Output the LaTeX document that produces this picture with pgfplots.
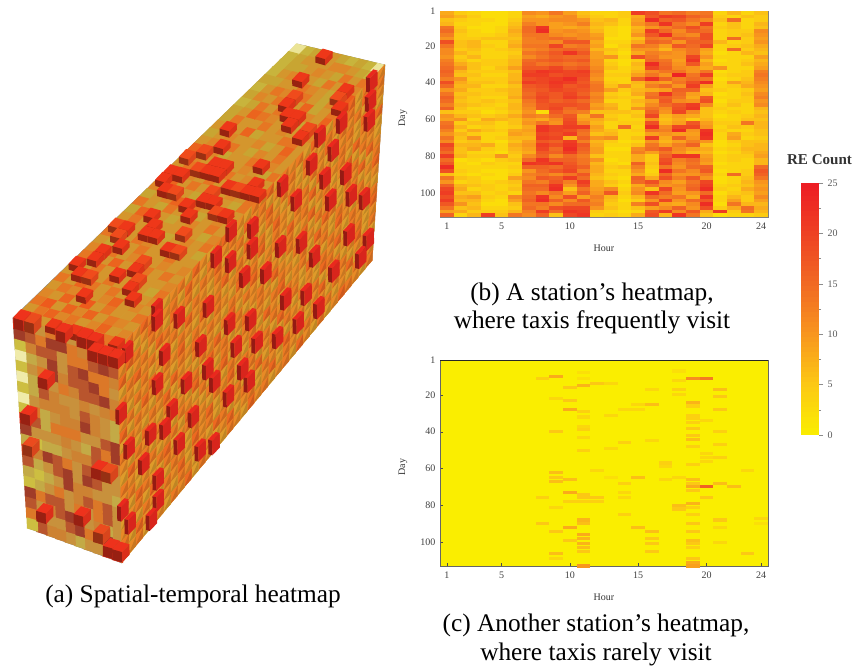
\documentclass[border=0pt]{standalone}
\usepackage{fontspec}
\setmainfont{Liberation Serif}
\usepackage{pgfplots}
\usepackage{pgfplotstable}
\pgfplotsset{compat=1.18}

% 1 px of the reference = 0.75pt
\def\qd#1#2#3#4#5#6#7#8{%
  \pgfpathmoveto{\pgfpoint{(#1)*.75pt}{(#2)*.75pt}}%
  \pgfpathlineto{\pgfpoint{(#3)*.75pt}{(#4)*.75pt}}%
  \pgfpathlineto{\pgfpoint{(#5)*.75pt}{(#6)*.75pt}}%
  \pgfpathlineto{\pgfpoint{(#7)*.75pt}{(#8)*.75pt}}%
  \pgfpathclose\pgfusepathqfill}
\def\flatcell#1#2#3#4{\qd{-.53*(#1)-.53*(#3)}{-.53*(#2)-.53*(#4)}{.53*(#1)-.53*(#3)}{.53*(#2)-.53*(#4)}{.53*(#1)+.53*(#3)}{.53*(#2)+.53*(#4)}{-.53*(#1)+.53*(#3)}{-.53*(#2)+.53*(#4)}}
% cube: near corner shift, then scale of the short side and of the height
\def\cube#1#2#3#4{%
  \ifdim\pgfplotspointmetatransformed pt>850pt
  \pgftransformshift{\pgfpoint{#1*.75pt}{#2*.75pt}}%
  \pgfsetfillcolor{mapped color}\qd{0}{0}{-9.8*#3}{2.8*#3}{-9.8*#3+7.4}{2.8*#3+7.8}{7.4}{7.8}%
  \pgfsetfillcolor{mapped color!64!black}\qd{0}{0}{-9.8*#3}{2.8*#3}{-9.8*#3+.2*#4}{2.8*#3-10.4*#4}{.2*#4}{-10.4*#4}%
  \pgfsetfillcolor{mapped color!92!black}\qd{0}{0}{7.4}{7.8}{7.4+.2*#4}{7.8-10.4*#4}{.2*#4}{-10.4*#4}%
  \fi}
\pgfdeclareplotmark{lflat}{\flatcell{10.6}{-3}{.5}{-10.6}}
\pgfdeclareplotmark{tflat}{\flatcell{9.7}{-2.6}{7.6}{7.8}}
\pgfdeclareplotmark{rflat}{\flatcell{7.2}{8.1}{-.2}{-10.3}%
  \pgfsetfillcolor{mapped color!86!black}\qd{-3.7}{-9.2}{3.5}{-1.1}{3.7}{9.2}{3.7}{9.2}}
\pgfdeclareplotmark{tcube}{\cube{1.2}{-4}{1}{.6}}
\pgfdeclareplotmark{lcube}{\cube{4.8}{3.8}{1}{1}}
\pgfdeclareplotmark{rcube}{\cube{-3.7}{3.4}{.4}{1.4}}
\pgfdeclareplotmark{hcell}{\pgfpathrectangle{\pgfpoint{-5.2pt}{-1.45pt}}{\pgfpoint{10.4pt}{2.9pt}}\pgfusepathqfill}
\pgfdeclareplotmark{ccell}{\pgfpathrectangle{\pgfpoint{-5.2pt}{-1.15pt}}{\pgfpoint{10.4pt}{2.3pt}}\pgfusepathqfill}
\pgfdeclareplotmark{barcell}{\pgfpathrectangle{\pgfpoint{-6.75pt}{-2pt}}{\pgfpoint{13.5pt}{4pt}}\pgfusepathqfill}

% bilinear placing of a cell on a face: corners, then s and t
\def\bl#1#2#3#4#5#6{((1-(#5))*(1-(#6))*#1+(#5)*(1-(#6))*#2+(1-(#5))*(#6)*#3+(#5)*(#6)*#4)}

\pgfplotsset{
  colormap={re}{rgb255=(250,238,0) rgb255=(252,200,20) rgb255=(248,150,30) rgb255=(241,105,35) rgb255=(238,65,35) rgb255=(237,28,36)},
  colormap={faceT}{rgb255=(235,228,150) rgb255=(200,180,60) rgb255=(200,165,50) rgb255=(212,150,45) rgb255=(222,135,40) rgb255=(230,118,35) rgb255=(235,100,30) rgb255=(238,90,28) rgb255=(240,75,28) rgb255=(238,55,25)},
  colormap={faceR}{rgb255=(235,228,140) rgb255=(205,185,55) rgb255=(214,170,48) rgb255=(222,155,42) rgb255=(232,138,38) rgb255=(235,122,35) rgb255=(237,105,32) rgb255=(238,85,30) rgb255=(236,60,30) rgb255=(235,40,30)},
  colormap={faceL}{rgb255=(240,235,170) rgb255=(205,190,65) rgb255=(195,170,70) rgb255=(200,145,60) rgb255=(205,130,50) rgb255=(220,120,40) rgb255=(185,85,45) rgb255=(160,60,40) rgb255=(235,75,30) rgb255=(238,50,28)},
  panel/.style={
    scale only axis, width=246pt, height=154.5pt, anchor=south west,
    y dir=reverse, xmin=0.5, xmax=24.5, ymin=1, ymax=113,
    xtick={1,5,10,15,20,24}, ytick={1,20,40,60,80,100},
    colormap name=re, point meta min=0, point meta max=25,
    /pgf/number format/assume math mode=true,
    tick label style={font=\fontsize{7.5}{9}\selectfont, text=black!75},
    label style={font=\fontsize{7.5}{9}\selectfont, text=black!80},
    axis line style={draw=black!50}, tick style={black!70},
    major tick length=2.5pt, ytick pos=left, xtick pos=bottom,
    x tick label style={yshift=-1pt},
    xlabel={Hour}, ylabel={Day},
    xlabel style={at={(axis description cs:0.5,-0.15)},anchor=center},
    ylabel style={at={(axis description cs:-0.113,0.48)},anchor=center},
  },
}

% panel (b): hour 1..24 per row, one row per two days
\pgfplotstableread[header=false]{
2 7 4 3 2 2 3 10 9 12 8 5 3 3 4 18 16 12 13 11 12 3 6 3 5
4 8 6 4 2 2 3 8 7 9 10 6 4 3 4 7 15 18 17 14 13 4 3 5 4
6 5 4 3 3 2 4 9 9 10 10 9 5 6 3 8 20 14 15 12 10 5 13 3 4
8 6 3 3 2 2 5 11 9 8 9 11 6 5 3 9 12 19 12 10 18 3 5 3 6
10 12 4 2 2 3 6 13 19 8 7 8 5 3 2 6 9 11 13 16 12 4 5 3 5
12 13 5 3 2 3 7 13 20 9 10 9 6 3 2 7 18 13 10 14 13 3 4 4 10
14 11 4 3 3 4 6 12 12 10 9 10 8 3 2 9 15 20 11 10 16 3 4 5 9
16 9 4 4 5 5 5 11 12 13 12 10 9 2 2 5 12 11 14 13 16 3 13 4 8
18 16 5 6 3 3 6 11 11 10 15 15 7 3 3 7 14 13 9 14 14 6 3 4 9
20 12 5 6 4 3 7 12 12 17 11 12 8 2 4 12 11 8 15 13 17 3 4 5 7
22 10 4 5 3 4 5 10 11 13 14 13 6 5 3 9 9 6 10 12 8 3 13 4 6
24 10 6 4 3 3 4 12 13 15 19 15 8 4 2 7 11 10 9 12 7 2 3 6 5
26 9 4 6 3 3 5 10 12 14 13 13 8 9 3 16 12 9 9 17 9 3 3 3 8
28 11 5 3 4 4 6 13 14 15 14 15 9 3 2 4 13 12 8 19 6 2 3 4 6
30 12 7 5 4 4 6 14 12 13 12 13 9 4 2 6 20 13 9 15 8 3 3 5 7
32 13 9 5 3 5 8 15 15 17 14 15 10 5 3 5 17 14 10 9 7 9 3 3 8
34 14 6 4 4 4 5 17 19 18 17 18 11 3 3 6 10 12 12 9 12 2 3 4 11
36 13 5 5 3 3 6 18 18 16 17 17 10 4 4 8 12 9 21 12 18 3 4 4 12
38 11 9 4 4 4 6 16 17 18 20 16 9 3 3 14 20 14 11 13 12 2 3 5 11
40 16 7 5 5 4 7 18 17 19 18 15 11 4 3 6 9 8 12 16 20 3 8 6 10
42 13 6 6 3 3 5 15 16 18 15 16 12 5 9 5 11 13 9 18 8 3 4 7 9
44 9 7 4 4 5 6 14 15 17 16 15 12 8 4 6 7 8 14 14 5 4 3 4 8
46 12 5 5 4 4 6 13 16 15 17 14 10 4 3 7 12 19 13 8 6 2 3 5 10
48 14 6 4 3 3 7 14 17 15 18 16 11 5 4 4 13 14 12 7 15 3 3 4 11
50 13 5 4 5 4 5 12 16 14 15 13 10 3 3 6 8 15 10 9 16 2 4 4 9
52 11 6 5 4 3 6 11 15 16 16 15 8 6 3 5 10 13 15 18 10 3 5 3 10
54 14 5 3 3 4 6 10 15 17 13 15 9 7 3 9 12 10 16 19 5 4 3 3 6
56 5 4 4 2 3 5 9 2 15 12 11 5 5 5 4 14 9 17 10 5 3 4 3 5
58 9 6 5 4 5 7 11 10 13 15 7 12 4 3 5 17 6 8 7 5 2 3 4 6
60 8 9 3 7 6 5 8 7 10 16 8 7 5 3 3 9 5 7 4 6 3 3 5 5
62 12 4 5 5 3 5 9 12 9 17 10 6 3 4 4 16 6 8 15 8 4 4 12 6
64 13 6 3 4 3 4 7 19 17 18 18 8 3 13 3 20 10 17 17 9 3 5 4 6
66 11 4 7 5 4 7 8 19 17 16 13 7 5 3 4 12 11 20 9 19 4 3 3 5
68 9 6 4 3 3 8 7 17 16 18 12 5 6 3 3 8 9 8 8 20 3 7 4 5
70 12 5 9 3 4 6 6 18 17 6 14 9 10 3 5 18 7 14 9 19 3 8 3 4
72 10 4 5 3 2 5 8 15 14 18 11 6 4 2 3 9 6 8 11 9 2 4 5 5
74 17 6 6 7 3 7 9 18 16 19 15 7 3 3 5 12 8 11 14 5 2 3 5 6
76 15 5 7 4 3 6 8 17 13 20 14 8 2 2 10 13 15 10 8 7 3 4 6 6
78 13 5 3 3 2 5 7 15 14 18 13 8 3 3 11 8 12 9 6 6 2 3 5 7
80 18 6 4 4 9 4 10 14 10 13 11 5 3 3 7 4 14 19 19 8 3 4 4 8
82 13 2 3 2 4 5 13 19 14 14 12 9 2 3 7 4 16 11 13 9 3 4 3 6
84 15 3 2 4 3 3 19 18 19 15 12 6 3 2 14 5 17 10 12 8 2 3 3 6
86 20 3 3 3 3 4 14 14 13 16 14 7 4 5 11 4 12 9 13 14 3 3 3 13
88 16 4 3 2 2 3 9 13 15 17 11 7 3 3 9 3 20 12 10 15 2 3 4 15
90 5 3 2 3 2 4 11 12 10 12 15 6 4 3 7 4 13 9 9 11 3 13 4 14
92 12 5 4 2 2 8 10 15 14 18 13 5 3 2 14 7 16 11 15 9 2 3 5 12
94 9 3 4 3 4 5 12 11 15 11 18 7 5 3 13 16 10 8 12 17 2 3 6 9
96 14 6 5 4 3 4 14 14 19 9 16 7 4 2 7 12 9 10 13 18 3 4 5 8
98 17 7 3 4 3 5 13 13 20 5 12 8 10 3 9 5 17 9 14 20 4 3 7 9
100 18 5 5 3 4 3 12 10 12 8 14 9 15 4 10 19 13 8 9 13 2 4 5 8
102 16 7 8 4 3 10 13 19 10 16 8 11 6 3 6 13 11 12 7 19 3 6 4 10
104 18 6 6 3 2 8 14 20 14 10 15 10 5 2 4 9 17 9 13 15 3 8 4 8
106 15 9 5 2 2 5 12 12 10 13 13 11 4 3 11 16 8 7 10 20 2 12 6 6
108 12 5 6 3 3 4 13 11 16 17 17 9 5 3 5 8 10 14 9 16 4 7 13 7
110 8 7 4 4 4 6 11 18 13 19 18 4 3 2 3 15 18 10 15 7 18 4 12 6
112 14 3 6 18 5 12 10 14 5 17 19 3 4 3 7 16 6 19 12 5 2 3 3 4
}\tabb

% panel (c): hour day value, only the cells that leave the yellow
\pgfplotstableread[header=false]{
8 11 4
9 10 8
10 16 5
11 15 7
12 14 5
13 14 3
11 8 2
11 11 2
18 7 2
18 12 3
18 17 4
18 20 3
19 11 11
20 11 13
19 24 7
19 26 4
19 31 4
19 33 4
19 35 4
19 38 5
19 42 5
19 44 6
19 48 4
19 58 4
19 66 6
19 68 5
19 70 8
19 72 5
19 79 7
19 81 4
19 85 4
19 90 5
19 94 5
19 99 6
19 101 5
19 103 4
19 109 5
19 111 8
19 113 9
20 70 16
20 76 5
20 34 3
20 52 3
20 54 3
20 56 3
21 17 6
21 21 5
21 28 5
21 40 4
21 47 4
21 54 4
21 68 6
21 88 5
21 92 3
21 100 3
22 70 6
10 23 5
10 28 8
10 66 6
10 73 8
10 78 4
10 92 8
10 99 5
9 22 3
9 40 5
9 62 6
9 65 5
9 67 6
9 81 3
9 94 5
9 106 6
9 109 3
8 76 4
8 90 5
11 29 4
11 32 3
11 37 3
11 39 4
11 43 3
11 50 4
11 74 5
11 76 5
11 78 4
11 88 7
11 90 6
11 96 8
11 98 7
11 101 7
11 103 6
11 105 5
11 113 10
12 76 5
12 78 4
12 61 3
13 31 3
13 49 3
13 65 2
14 28 3
14 46 4
14 68 4
14 73 3
14 76 3
14 85 4
15 25 3
15 28 3
15 65 6
15 92 6
16 25 6
16 17 3
16 45 3
16 94 6
16 98 5
16 101 5
16 105 5
17 57 4
17 59 3
17 66 3
18 80 6
18 82 5
18 65 3
23 106 5
23 61 3
24 87 3
24 90 2
}\tabc

% panel (a), levels 0..9 read off the three faces
\pgfplotstableread[header=false]{
36 0 1 2 9 3 2 1 2 1 0
35 1 2 3 3 3 4 4 3 2 1
34 1 2 2 3 4 3 2 5 3 5
33 1 3 4 9 3 2 5 3 9 4
32 2 2 3 3 5 4 3 2 8 7
31 1 3 5 4 8 5 3 2 4 9
30 2 4 3 5 9 3 6 2 3 5
29 1 2 5 3 5 9 9 4 3 6
28 2 3 6 5 4 3 9 2 8 5
27 2 5 3 3 5 3 4 3 9 4
26 3 9 3 6 2 3 3 5 5 3
25 2 3 4 3 3 4 2 3 6 3
24 3 4 9 5 3 2 4 3 5 3
23 6 8 4 2 3 3 5 9 4 3
22 8 4 3 9 9 3 4 3 2 5
21 3 5 8 9 9 5 3 4 9 3
20 9 9 4 3 5 3 9 8 9 9
19 9 6 3 5 3 8 3 4 3 5
18 4 9 8 3 2 9 9 3 2 5
17 2 3 4 6 9 5 3 8 9 3
16 5 3 2 5 3 9 2 3 4 3
15 2 6 9 3 2 3 4 3 5 3
14 3 5 3 9 3 3 8 3 2 4
13 8 9 3 9 9 2 3 4 3 5
12 5 8 3 5 4 3 9 8 3 2
11 3 2 9 3 5 3 3 5 3 3
10 4 9 5 3 4 8 3 4 3 4
9 5 9 3 6 3 9 5 3 5 3
8 9 3 5 3 9 3 8 3 3 4
7 3 9 8 3 5 3 9 3 2 5
6 5 3 6 5 3 5 3 9 3 4
5 3 5 4 9 3 4 6 3 4 3
4 4 3 6 3 7 3 5 3 3 5
3 5 7 3 6 4 6 3 5 4 3
2 3 5 6 4 5 3 4 6 3 4
1 9 8 3 9 3 9 9 3 5 9
}\tabT
\pgfplotstableread[header=false]{
1 9 8 3 5 9 3 9 9 5 4
2 7 6 5 7 7 5 4 9 9 9
3 1 4 6 6 3 5 5 6 7 6
4 0 2 3 7 3 6 7 5 5 4
5 1 3 5 7 4 6 6 7 5 3
6 0 2 9 3 5 4 6 6 7 4
7 1 2 6 4 3 3 4 3 4 5
8 0 3 4 4 4 3 6 4 3 2
9 1 5 2 3 4 4 7 4 3 2
10 9 6 2 5 5 5 3 3 6 7
11 7 3 3 3 4 3 2 6 5 7
12 2 1 2 2 3 4 4 6 4 4
13 8 4 7 6 5 3 6 9 8 3
14 6 2 3 6 7 3 7 6 3 3
15 2 1 2 3 7 4 4 3 3 2
16 1 2 3 5 3 4 6 5 6 3
17 7 5 6 6 3 5 3 5 6 3
18 6 3 4 6 7 9 3 4 2 3
19 5 9 3 3 6 7 5 8 7 3
20 1 6 4 4 3 2 3 3 9 9
}\tabL
\pgfplotstableread[header=false]{
1 3 5 4 6 5 9 3 4 5 3 6 4 3 5 6 9 4 3 5 4 6 3 5 4 5 3 6 9 3 5 4 6 3 5 9 4
2 5 9 3 4 6 9 4 5 3 6 4 3 5 9 4 5 3 6 4 5 3 4 9 5 3 6 4 3 5 4 9 5 3 6 4 5
3 4 6 5 3 5 4 3 6 4 5 3 5 4 6 3 4 5 3 9 4 6 3 5 4 3 5 9 4 6 3 5 4 5 3 9 4
4 6 3 4 5 3 6 5 4 9 3 5 4 3 5 4 9 3 6 4 3 5 4 3 6 4 3 5 4 3 9 4 5 3 6 4 3
5 3 5 6 4 5 3 4 5 3 6 4 5 3 4 6 3 5 4 9 5 3 6 4 3 9 5 3 6 4 3 5 4 3 5 9 6
6 5 4 3 5 3 4 9 3 5 4 3 6 9 5 3 4 5 3 4 6 3 5 4 3 5 4 6 3 9 4 5 3 6 4 5 3
7 9 3 5 4 6 3 5 4 6 3 5 4 3 5 4 3 6 9 5 3 4 5 3 6 4 5 3 4 5 3 4 6 3 5 4 3
8 4 5 3 6 4 9 4 3 5 4 6 3 5 4 3 5 4 3 6 4 5 3 9 5 3 4 6 3 5 4 3 9 5 3 6 4
9 6 3 5 4 3 5 3 6 4 3 5 9 4 3 5 6 3 5 4 3 9 4 3 5 4 6 3 5 4 9 3 5 4 6 3 5
10 3 5 4 3 5 4 6 3 5 4 3 5 4 6 3 9 5 3 4 5 3 6 4 3 5 9 4 3 6 5 3 4 5 3 4 6
11 5 9 3 6 4 3 5 4 3 9 5 3 6 4 5 3 4 6 3 5 4 3 5 4 3 5 3 6 4 3 5 4 9 5 3 4
12 4 3 5 4 9 5 3 9 4 3 6 4 9 3 5 4 3 5 9 4 3 5 6 3 4 5 3 4 5 3 6 4 3 5 4 3
13 3 6 4 5 3 4 9 3 5 4 3 5 3 4 6 3 9 4 5 3 6 4 3 5 4 3 6 9 3 5 4 3 5 4 9 5
14 5 4 3 9 5 3 4 5 3 6 4 3 5 9 3 5 4 3 6 4 3 5 4 9 5 3 4 3 5 4 6 3 5 4 3 6
15 4 5 3 4 3 5 6 3 4 5 9 4 3 5 4 6 3 5 4 9 5 3 6 4 3 5 4 3 6 5 3 4 9 5 3 4
16 9 3 6 5 4 3 5 4 9 3 5 4 6 3 5 4 3 9 5 3 4 6 3 5 4 3 9 5 3 4 5 3 4 6 3 5
17 3 4 5 3 6 9 3 5 4 3 6 4 5 3 4 9 5 3 4 6 3 5 9 3 4 5 3 4 6 3 9 5 3 4 5 3
18 4 9 3 5 4 3 5 4 6 3 5 4 3 6 5 3 4 5 9 3 5 4 3 6 4 9 3 5 4 3 5 4 6 3 4 9
19 5 3 6 4 3 9 4 3 5 4 3 9 5 3 4 6 3 4 5 3 4 6 3 5 4 3 5 4 9 5 3 4 3 5 9 4
20 3 4 5 3 9 4 3 5 4 6 3 5 4 9 3 5 4 3 6 4 5 3 4 5 3 6 4 3 5 3 4 6 5 4 3 5
}\tabR

% colour scale, level of each step
\pgfplotstableread[header=false]{
0.26
0.5
1
1.5
2
2.5
3
3.5
4
4.5
5
5.5
6
6.5
7
7.5
8
8.5
9
9.5
10
10.5
11
11.5
12
12.5
13
13.5
14
14.5
15
15.5
16
16.5
17
17.5
18
18.5
19
19.5
20
20.5
21
21.5
22
22.5
23
23.5
24
24.5
24.74
}\tabbar

\begin{document}
\begin{tikzpicture}
\useasboundingbox (0,0) rectangle (640.5pt,499.5pt);

% whole picture in reference pixels: the cuboid and the captions
\begin{axis}[
    at={(0,0)}, anchor=south west, scale only axis, width=640.5pt, height=499.5pt,
    xmin=0, xmax=854, ymin=0, ymax=666, y dir=reverse, hide axis, clip=false,
    point meta min=0, point meta max=9,
]
\addplot[fill={rgb,255:red,210;green,165;blue,55}, draw=none] coordinates {(13,318)(297,44)(385,65)(372,260)(122,563)(28,528)} -- cycle;

\pgfplotsinvokeforeach{10,9,...,1}{
\addplot[scatter, only marks, mark=tflat, colormap name=faceT, scatter src=explicit] table[
    x expr={\bl{13}{118}{297}{385}{(#1-.5)/10}{(\thisrowno{0}-.5)/36}},
    y expr={\bl{318}{348}{44}{65}{(#1-.5)/10}{(\thisrowno{0}-.5)/36}},
    meta index=#1] {\tabT};
\addplot[scatter, only marks, mark=lflat, colormap name=faceL, scatter src=explicit] table[
    x expr={\bl{13}{118}{28}{122}{(#1-.5)/10}{(\thisrowno{0}-.5)/20}},
    y expr={\bl{318}{348}{528}{563}{(#1-.5)/10}{(\thisrowno{0}-.5)/20}},
    meta index=#1] {\tabL};
}
\pgfplotsinvokeforeach{36,35,...,1}{
\addplot[scatter, only marks, mark=rflat, colormap name=faceR, scatter src=explicit] table[
    x expr={\bl{118}{385}{122}{372}{(#1-.5)/36}{(\thisrowno{0}-.5)/20}},
    y expr={\bl{348}{65}{563}{260}{(#1-.5)/36}{(\thisrowno{0}-.5)/20}},
    meta index=#1] {\tabR};
}
% hot voxels stand out as little cubes
\pgfplotsinvokeforeach{1,...,10}{
\addplot[scatter, only marks, mark=tcube, colormap name=faceT, scatter src=explicit] table[
    x expr={\bl{13}{118}{297}{385}{(#1-.5)/10}{(\thisrowno{0}-.5)/36}},
    y expr={\bl{318}{348}{44}{65}{(#1-.5)/10}{(\thisrowno{0}-.5)/36}},
    meta index=#1] {\tabT};
}
\pgfplotsinvokeforeach{36,35,...,1}{
\addplot[scatter, only marks, mark=rcube, colormap name=faceR, scatter src=explicit] table[
    x expr={\bl{118}{385}{122}{372}{(#1-.5)/36}{(\thisrowno{0}-.5)/20}},
    y expr={\bl{348}{65}{563}{260}{(#1-.5)/36}{(\thisrowno{0}-.5)/20}},
    meta index=#1] {\tabR};
}
\pgfplotsinvokeforeach{1,...,10}{
\addplot[scatter, only marks, mark=lcube, colormap name=faceL, scatter src=explicit] table[
    x expr={\bl{13}{118}{28}{122}{(#1-.5)/10}{(\thisrowno{0}-.5)/20}},
    y expr={\bl{318}{348}{528}{563}{(#1-.5)/10}{(\thisrowno{0}-.5)/20}},
    meta index=#1] {\tabL};
}
\addplot[black!45, line width=.5pt] coordinates {(122,563)(28,528)(13,318)(297,44)(385,65)(372,260)};
\addplot[black!35, line width=.3pt] coordinates {(13,318)(118,348)(385,65)};
\addplot[black!35, line width=.3pt] coordinates {(118,348)(122,563)};

\node[font=\fontsize{19}{23}\selectfont] at (axis cs:193,596) {(a) Spatial-temporal heatmap};
\node[font=\fontsize{19}{23}\selectfont] at (axis cs:592,294) {(b) A station’s heatmap,};
\node[font=\fontsize{19}{23}\selectfont] at (axis cs:592,322) {where taxis frequently visit};
\node[font=\fontsize{19}{23}\selectfont] at (axis cs:596,625) {(c) Another station’s heatmap,};
\node[font=\fontsize{19}{23}\selectfont] at (axis cs:596,654) {where taxis rarely visit};
\node[font=\bfseries\fontsize{11.3}{13}\selectfont, text=black!80] at (axis cs:819.5,160) {RE Count};
\end{axis}

% panel (b)
\begin{axis}[panel, at={(330pt,336.75pt)}, point meta max=22]
\pgfplotsinvokeforeach{1,...,24}{
\addplot[scatter, only marks, mark=hcell, scatter src=explicit] table[x expr=#1, y index=0, meta index=#1] {\tabb};
}
\end{axis}

% panel (c)
\begin{axis}[panel, at={(330pt,75pt)}, axis background/.style={fill={rgb,255:red,250;green,238;blue,0}}, axis line style={draw=black!60}]
\addplot[scatter, only marks, mark=ccell, scatter src=explicit] table[x index=0, y index=1, meta index=2] {\tabc};
\addplot[black!85, line width=1pt] coordinates {(0.5,1.2)(24.5,1.2)};
\end{axis}

% colour scale
\begin{axis}[
    at={(600.75pt,173.25pt)}, anchor=south west, scale only axis, width=13.5pt, height=189pt,
    xmin=0, xmax=1, ymin=0, ymax=25, xtick=\empty, ytick={0,5,...,25}, minor y tick num=1,
    ytick pos=right, tick align=outside, axis line style={draw=none},
    colormap name=re, point meta min=0, point meta max=25,
    /pgf/number format/assume math mode=true,
    tick label style={font=\fontsize{7.5}{9}\selectfont, text=black!65},
    tick style={black!45}, major tick length=3pt, minor tick length=1.5pt,
]
\addplot[scatter, only marks, mark=barcell, scatter src=y] table[x expr=0.5, y index=0] {\tabbar};
\end{axis}
\end{tikzpicture}
\end{document}
